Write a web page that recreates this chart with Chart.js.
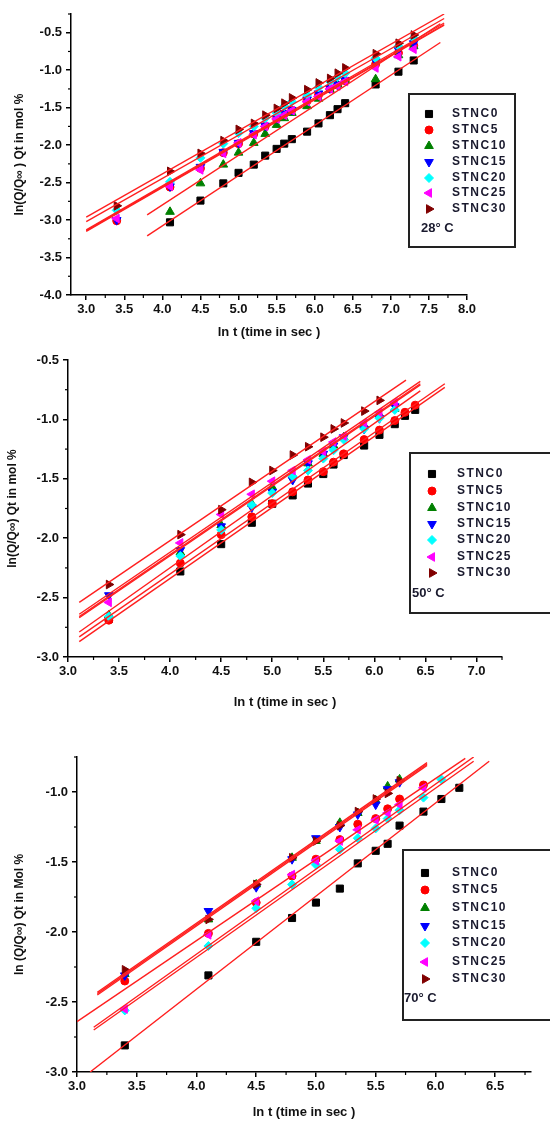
<!DOCTYPE html>
<html>
<head>
<meta charset="utf-8">
<script src="https://cdn.jsdelivr.net/npm/chart.js@4.4.1/dist/chart.umd.min.js"></script>
<style>
    body { margin: 0; background: #fff; width: 550px; height: 1121px; overflow: hidden; position: relative; }
    canvas { position: absolute; left: 0; }
</style>
</head>
<body>
<canvas id="chart28" width="550" height="340" style="top:0px"></canvas>
<canvas id="chart50" width="550" height="370" style="top:340px"></canvas>
<canvas id="chart70" width="550" height="411" style="top:710px"></canvas>
<script>
// Series
const seriesNames = ["STNC0", "STNC5", "STNC10", "STNC15", "STNC20", "STNC25", "STNC30"];
const seriesColors = ["#000000", "#ff0000", "#008000", "#0000ff", "#00ffff", "#ff00ff", "#800000"];
const seriesShapes = ["rect", "circle", "triangle", "triangle", "rectRot", "triangle", "triangle"];
const seriesRotation = [0, 0, 0, 180, 0, 270, 90];
const seriesRadius = [5, 4, 5, 5, 4.5, 5, 5];

// 28 C : ln t and ln(Q/Qinf) per series
const lnT28 = [3.4, 4.1, 4.5, 4.8, 5.0, 5.2, 5.35, 5.5, 5.6, 5.7, 5.9, 6.05, 6.2, 6.3, 6.4, 6.8, 7.1, 7.3];
const stnc0_28 = [null, -3.03, -2.74, -2.51, -2.37, -2.26, -2.14, -2.05, -1.98, -1.92, -1.82, -1.71, -1.60, -1.52, -1.44, -1.19, -1.02, -0.87];
const stnc5_28 = [-3.01, -2.56, -2.31, -2.10, -1.98, -1.85, -1.75, -1.65, -1.58, -1.53, -1.41, -1.33, -1.25, -1.20, -1.14, -0.92, -0.77, -0.67];
const stnc10_28 = [null, -2.89, -2.51, -2.26, -2.10, -1.97, -1.85, -1.73, -1.64, -1.57, -1.48, -1.38, -1.26, -1.19, -1.13, -1.12, -0.80, -0.68];
const stnc15_28 = [-3.00, -2.55, -2.29, -2.09, -1.97, -1.84, -1.74, -1.64, -1.57, -1.53, -1.39, -1.31, -1.24, -1.19, -1.13, -0.88, -0.73, -0.64];
const stnc20_28 = [-2.87, -2.49, -2.17, -1.98, -1.84, -1.75, -1.64, -1.57, -1.48, -1.42, -1.33, -1.23, -1.15, -1.09, -1.04, -0.84, -0.68, -0.57];
const stnc25_28 = [-2.98, -2.55, -2.33, -2.11, -1.97, -1.86, -1.75, -1.65, -1.60, -1.54, -1.42, -1.35, -1.25, -1.21, -1.15, -0.97, -0.82, -0.72];
const stnc30_28 = [-2.81, -2.35, -2.11, -1.94, -1.79, -1.71, -1.60, -1.51, -1.44, -1.37, -1.26, -1.17, -1.11, -1.04, -0.97, -0.78, -0.64, -0.53];
// fitted lines: [x0, y0, x1, y1]
const fit28 = [[3.8, -3.21, 7.65, -0.63], [3.0, -3.14, 7.7, -0.39], [3.8, -2.93, 7.65, -0.38], [3.0, -3.13, 7.7, -0.37],
               [3.0, -3.02, 7.7, -0.31], [3.0, -3.15, 7.7, -0.40], [3.0, -2.96, 7.7, -0.25]];
const xTicks28 = [3.0, 3.5, 4.0, 4.5, 5.0, 5.5, 6.0, 6.5, 7.0, 7.5, 8.0];
const yTicks28 = [-4.0, -3.5, -3.0, -2.5, -2.0, -1.5, -1.0, -0.5];

// 50 C
const lnT50 = [3.4, 4.1, 4.5, 4.8, 5.0, 5.2, 5.35, 5.5, 5.6, 5.7, 5.9, 6.05, 6.2, 6.3, 6.4];
const stnc0_50 = [-2.68, -2.28, -2.05, -1.87, -1.71, -1.64, -1.54, -1.46, -1.38, -1.30, -1.22, -1.13, -1.04, -0.97, -0.92];
const stnc5_50 = [-2.69, -2.21, -1.97, -1.82, -1.71, -1.61, -1.51, -1.44, -1.36, -1.29, -1.17, -1.09, -1.01, -0.94, -0.88];
const stnc10_50 = [-2.65, -2.12, -1.89, -1.71, -1.57, -1.47, -1.37, -1.29, -1.22, -1.15, -1.05, -0.96, -0.91, null, null];
const stnc15_50 = [-2.48, -2.10, -1.90, -1.74, -1.61, -1.51, -1.37, -1.29, -1.22, -1.15, -1.08, -0.99, -0.89, null, null];
const stnc20_50 = [-2.66, -2.15, -1.93, -1.72, -1.62, -1.48, -1.43, -1.33, -1.26, -1.17, -1.08, -0.99, -0.92, null, null];
const stnc25_50 = [-2.54, -2.04, -1.80, -1.63, -1.52, -1.43, -1.34, -1.27, -1.19, -1.14, -1.03, -0.94, -0.86, null, null];
const stnc30_50 = [-2.39, -1.97, -1.76, -1.53, -1.43, -1.30, -1.23, -1.15, -1.08, -1.03, -0.93, -0.84, null, null, null];
const fit50 = [[3.11, -2.87, 6.69, -0.73], [3.11, -2.83, 6.69, -0.70], [3.11, -2.66, 6.45, -0.70], [3.11, -2.67, 6.45, -0.71],
               [3.11, -2.79, 6.45, -0.76], [3.11, -2.64, 6.45, -0.68], [3.11, -2.54, 6.31, -0.67]];
const xTicks50 = [3.0, 3.5, 4.0, 4.5, 5.0, 5.5, 6.0, 6.5, 7.0];
const yTicks50 = [-3.0, -2.5, -2.0, -1.5, -1.0, -0.5];

// 70 C
const lnT70 = [3.4, 4.1, 4.5, 4.8, 5.0, 5.2, 5.35, 5.5, 5.6, 5.7, 5.9, 6.05, 6.2];
const stnc0_70 = [-2.81, -2.31, -2.07, -1.90, -1.79, -1.69, -1.51, -1.42, -1.37, -1.24, -1.14, -1.05, -0.97];
const stnc5_70 = [-2.35, -2.01, -1.79, -1.60, -1.48, -1.34, -1.23, -1.19, -1.12, -1.05, -0.95, null, null];
const stnc10_70 = [-2.30, -1.91, -1.66, -1.47, -1.35, -1.22, -1.15, -1.06, -0.96, -0.91, null, null, null];
const stnc15_70 = [-2.31, -1.85, -1.68, -1.48, -1.33, -1.25, -1.16, -1.09, -0.98, -0.93, null, null, null];
const stnc20_70 = [-2.56, -2.10, -1.83, -1.66, -1.52, -1.41, -1.33, -1.26, -1.19, -1.13, -1.04, -0.91, null];
const stnc25_70 = [-2.55, -2.02, -1.78, -1.59, -1.49, -1.35, -1.27, -1.20, -1.15, -1.09, -0.97, null, null];
const stnc30_70 = [-2.27, -1.91, -1.66, -1.47, -1.35, -1.24, -1.14, -1.05, -1.01, -0.92, null, null, null];
const fit70 = [[3.11, -3.0, 6.45, -0.78], [3.0, -2.64, 6.25, -0.76], [3.17, -2.44, 5.93, -0.80], [3.17, -2.45, 5.93, -0.81],
               [3.14, -2.70, 6.32, -0.78], [3.14, -2.68, 6.32, -0.75], [3.17, -2.43, 5.93, -0.79]];
const xTicks70 = [3.0, 3.5, 4.0, 4.5, 5.0, 5.5, 6.0, 6.5];
const yTicks70 = [-3.0, -2.5, -2.0, -1.5, -1.0];

const FONT = "'Liberation Sans', Arial, sans-serif";

// short minor ticks halfway between the labelled ones
const minorTicks = {
    id: 'minorTicks',
    afterDraw(chart) {
        const ctx = chart.ctx;
        const area = chart.chartArea;
        ctx.save();
        ctx.strokeStyle = '#000';
        ctx.lineWidth = 1.2;
        ['x', 'y'].forEach((id) => {
            const s = chart.scales[id];
            const first = s.ticks[0].value;
            for (let v = first - 0.25; v <= s.max + 1e-9; v += 0.5) {
                if (v < s.min - 1e-9) continue;
                const p = s.getPixelForValue(v);
                ctx.beginPath();
                if (id === 'x') { ctx.moveTo(p, area.bottom); ctx.lineTo(p, area.bottom + 3); }
                else { ctx.moveTo(area.left, p); ctx.lineTo(area.left - 3, p); }
                ctx.stroke();
            }
        });
        ctx.restore();
    }
};

// boxed legend with the temperature note under it
const boxLegend = {
    id: 'boxLegend',
    afterDraw(chart, args, opts) {
        const ctx = chart.ctx;
        const b = opts.box;
        ctx.save();
        ctx.fillStyle = '#fff';
        ctx.fillRect(b[0], b[1], b[2] - b[0], b[3] - b[1]);
        ctx.strokeStyle = '#222';
        ctx.lineWidth = 2;
        ctx.strokeRect(b[0], b[1], b[2] - b[0], b[3] - b[1]);
        ctx.textBaseline = 'middle';
        ctx.font = 'bold 12px ' + FONT;
        if ('letterSpacing' in ctx) ctx.letterSpacing = '1.5px';
        seriesNames.forEach((name, i) => {
            const y = opts.rows[i];
            ctx.fillStyle = seriesColors[i];
            ctx.strokeStyle = seriesColors[i];
            ctx.lineWidth = 1;
            Chart.helpers.drawPoint(ctx, {
                pointStyle: seriesShapes[i], radius: seriesRadius[i], rotation: seriesRotation[i], borderWidth: 1
            }, opts.markerX, y);
            ctx.fillStyle = '#1a1a2e';
            ctx.fillText(name, opts.textX, y);
        });
        if ('letterSpacing' in ctx) ctx.letterSpacing = '0px';
        ctx.font = 'bold 13px ' + FONT;
        ctx.fillStyle = '#1a1a2e';
        ctx.fillText(opts.temp, opts.tempX, opts.tempY);
        ctx.restore();
    }
};

function axisOptions(min, max, ticks, size, isX, titleText, titlePad) {
    return {
        type: 'linear',
        min: min,
        max: max,
        afterBuildTicks: (s) => { s.ticks = ticks.map((v) => ({ value: v })); },
        afterFit: (s) => { if (isX) s.height = size; else s.width = size; },
        ticks: {
            callback: (v) => v.toFixed(1),
            font: { family: FONT, size: 13, weight: 'bold' },
            color: '#111',
            padding: isX ? 2 : 4,
            maxRotation: 0,
            autoSkip: false
        },
        grid: { drawOnChartArea: false, drawTicks: true, tickLength: 5, color: '#000', lineWidth: 1.5 },
        border: { display: true, color: '#000', width: 1.5 },
        title: {
            display: true,
            text: titleText,
            color: '#111',
            font: { family: FONT, size: isX ? 13 : 12, weight: 'bold' },
            padding: titlePad
        }
    };
}

function drawPanel(canvasId, cfg) {
    const pointSets = seriesNames.map((name, i) => ({
        type: 'scatter',
        label: name,
        data: cfg.lnT.map((x, k) => ({ x: x, y: cfg.series[i][k] })).filter((p) => p.y !== null),
        pointStyle: seriesShapes[i],
        pointRotation: seriesRotation[i],
        pointRadius: seriesRadius[i],
        backgroundColor: seriesColors[i],
        borderColor: seriesColors[i],
        borderWidth: 1,
        showLine: false,
        order: 7 - i
    }));
    const lineSets = cfg.fit.map((f) => ({
        type: 'line',
        data: [{ x: f[0], y: f[1] }, { x: f[2], y: f[3] }],
        borderColor: '#ff1f1f',
        borderWidth: 1.4,
        pointRadius: 0,
        fill: false,
        order: 0
    }));

    new Chart(document.getElementById(canvasId), {
        type: 'scatter',
        data: { datasets: lineSets.concat(pointSets) },
        options: {
            responsive: false,
            animation: false,
            layout: { padding: { left: 0, right: cfg.padRight, top: cfg.padTop, bottom: 0 } },
            plugins: {
                legend: { display: false },
                tooltip: { enabled: false },
                boxLegend: cfg.legend
            },
            scales: {
                x: axisOptions(cfg.xMin, cfg.xMax, cfg.xTicks, cfg.xHeight, true, 'ln t (time in sec )', { top: 0, bottom: cfg.xTitlePad }),
                y: axisOptions(cfg.yMin, cfg.yMax, cfg.yTicks, cfg.yWidth, false, cfg.yTitle, { top: cfg.yTitlePad, bottom: 0 })
            }
        },
        plugins: [minorTicks, boxLegend]
    });
}

drawPanel('chart28', {
    lnT: lnT28,
    series: [stnc0_28, stnc5_28, stnc10_28, stnc15_28, stnc20_28, stnc25_28, stnc30_28],
    fit: fit28,
    xMin: 2.8, xMax: 8.0, yMin: -4.0, yMax: -0.25,
    xTicks: xTicks28, yTicks: yTicks28,
    yTitle: 'ln(Q/Q∞ ) Qt in mol %',
    yWidth: 71, xHeight: 45, padRight: 83, padTop: 14, xTitlePad: 0, yTitlePad: 12,
    legend: {
        box: [409, 94, 515, 247], markerX: 429, textX: 452,
        rows: [114, 130, 146, 162, 178, 193, 209],
        temp: '28° C', tempX: 421, tempY: 228
    }
});

drawPanel('chart50', {
    lnT: lnT50,
    series: [stnc0_50, stnc5_50, stnc10_50, stnc15_50, stnc20_50, stnc25_50, stnc30_50],
    fit: fit50,
    xMin: 3.0, xMax: 7.25, yMin: -3.0, yMax: -0.5,
    xTicks: xTicks50, yTicks: yTicks50,
    yTitle: 'ln(Q/Q∞) Qt in mol %',
    yWidth: 68, xHeight: 53, padRight: 48, padTop: 20, xTitlePad: 0, yTitlePad: 5,
    legend: {
        box: [410, 113, 553, 273], markerX: 432, textX: 457,
        rows: [134, 151, 168, 184, 200, 217, 233],
        temp: '50° C', tempX: 412, tempY: 253
    }
});

drawPanel('chart70', {
    lnT: lnT70,
    series: [stnc0_70, stnc5_70, stnc10_70, stnc15_70, stnc20_70, stnc25_70, stnc30_70],
    fit: fit70,
    xMin: 3.0, xMax: 6.8, yMin: -3.0, yMax: -0.75,
    xTicks: xTicks70, yTicks: yTicks70,
    yTitle: 'ln (Q/Q∞) Qt in Mol %',
    yWidth: 77, xHeight: 49, padRight: 19, padTop: 47, xTitlePad: 1, yTitlePad: 12,
    legend: {
        box: [403, 140, 553, 310], markerX: 425, textX: 452,
        rows: [163, 180, 198, 216, 233, 252, 269],
        temp: '70° C', tempX: 404, tempY: 288
    }
});
</script>
</body>
</html>
